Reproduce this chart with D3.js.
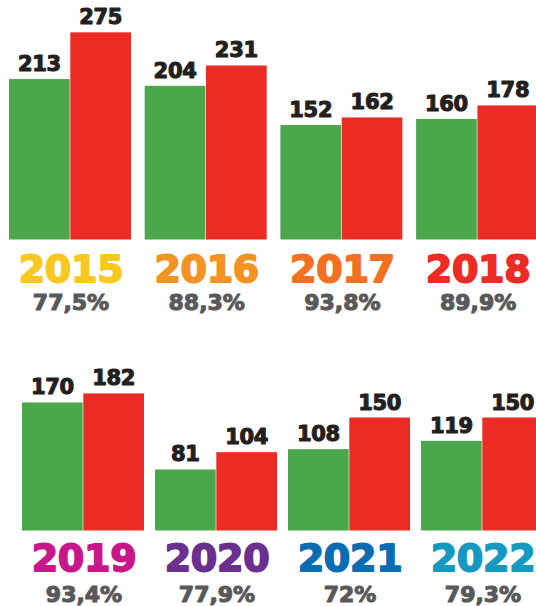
<!DOCTYPE html>
<html><head><meta charset="utf-8">
<script src="https://cdn.jsdelivr.net/npm/d3@7"></script>
<style>body{margin:0;background:#fff}svg{display:block}</style>
</head><body>
<svg id="c" width="536" height="606"></svg>
<script>
const years = ["2015","2016","2017","2018","2019","2020","2021","2022"];
const greenValues = [213,204,152,160,170,81,108,119];
const redValues = [275,231,162,178,182,104,150,150];
const percentLabels = ["77,5%","88,3%","93,8%","89,9%","93,4%","77,9%","72%","79,3%"];
const yearColors = ["#f8c821","#f39324","#f37021","#ed2b25","#c8178a","#6b2f8f","#0a6db4","#1599c1"];
const rows = [["2015","2016","2017","2018"],["2019","2020","2021","2022"]];

const svg = d3.select("#c");
const GREEN = "#4aa74a", RED = "#ed2b25";
const FONT = "'DejaVu Sans', sans-serif";

const y = d3.scaleLinear().domain([0, 300]).range([0, 226]);
const rowCfg = [
  {x0: 9, step: 135.7, bw: 122, base: 239.5, yearY: 281.5, pctY: 310},
  {x0: 22, step: 133, bw: 122, base: 530.5, yearY: 571, pctY: 602}
];

rows.forEach((rowYears, ri) => {
  const cfg = rowCfg[ri];
  const n = rowYears.length;
  const x = d3.scaleBand().domain(rowYears)
    .range([cfg.x0, cfg.x0 + cfg.step * (n - 1) + cfg.bw])
    .paddingInner((cfg.step - cfg.bw) / cfg.step).paddingOuter(0).align(0);
  const sub = d3.scaleBand().domain(["g","r"]).range([0, x.bandwidth()]).paddingInner(0.01);
  const g = svg.append("g");
  const data = rowYears.map(yr => {
    const i = years.indexOf(yr);
    return {yr, i, g: greenValues[i], r: redValues[i]};
  });
  const grp = g.selectAll("g.grp").data(data).join("g")
    .attr("transform", d => `translate(${x(d.yr)},0)`);
  ["g","r"].forEach(k => {
    grp.append("rect")
      .attr("x", sub(k)).attr("width", sub.bandwidth())
      .attr("y", d => cfg.base - y(d[k])).attr("height", d => y(d[k]))
      .attr("fill", k === "g" ? GREEN : RED);
    grp.append("text")
      .attr("x", sub(k) + sub.bandwidth()/2)
      .attr("y", d => cfg.base - y(d[k]) - 8)
      .attr("text-anchor", "middle")
      .attr("font-family", FONT).attr("font-weight", 700)
      .attr("font-size", 21).attr("letter-spacing", -0.3)
      .attr("fill", "#231f20").attr("stroke", "#231f20").attr("stroke-width", 1.1)
      .attr("stroke-linejoin", "round")
      .text(d => d[k]);
  });
  grp.append("text")
    .attr("x", x.bandwidth()/2 + 1).attr("y", cfg.yearY)
    .attr("text-anchor", "middle")
    .attr("font-family", FONT).attr("font-weight", 700).attr("font-size", 38)
    .attr("letter-spacing", -0.3)
    .attr("fill", d => yearColors[d.i]).attr("stroke", d => yearColors[d.i]).attr("stroke-width", 1.8)
    .attr("stroke-linejoin", "round")
    .text(d => d.yr);
  grp.append("text")
    .attr("x", x.bandwidth()/2 + 1).attr("y", cfg.pctY)
    .attr("text-anchor", "middle")
    .attr("font-family", FONT).attr("font-weight", 700).attr("font-size", 22)
    .attr("fill", "#58595b").attr("stroke", "#58595b").attr("stroke-width", 1.1)
    .attr("stroke-linejoin", "round")
    .text(d => percentLabels[d.i]);
});
</script>
</body></html>
